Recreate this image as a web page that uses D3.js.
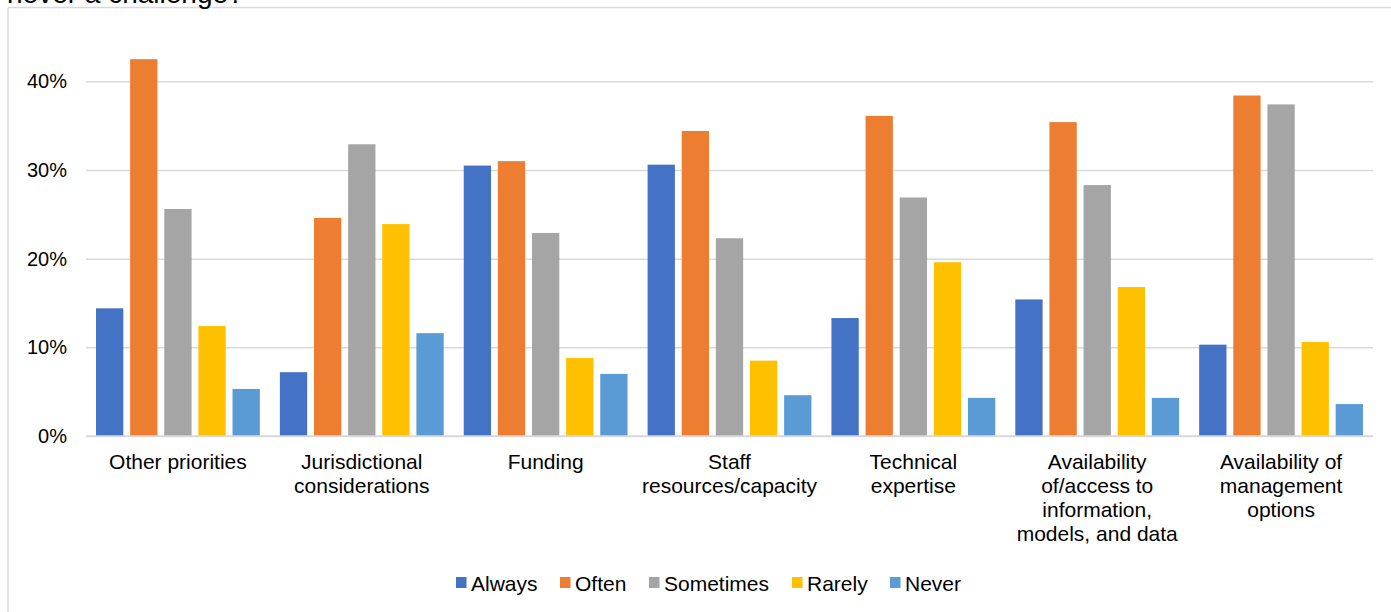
<!DOCTYPE html>
<html>
<head>
<meta charset="utf-8">
<script src="https://cdn.jsdelivr.net/npm/d3@7"></script>
<style>
  html, body { margin: 0; padding: 0; background: #fff; }
  svg { display: block; font-family: "Liberation Sans", Arial, sans-serif; }
</style>
</head>
<body>
<svg id="chart" width="1391" height="612"></svg>
<script>
// Categories (multi-line labels) and response series
const categories = [
  ["Other priorities"],
  ["Jurisdictional", "considerations"],
  ["Funding"],
  ["Staff", "resources/capacity"],
  ["Technical", "expertise"],
  ["Availability", "of/access to", "information,", "models, and data"],
  ["Availability of", "management", "options"]
];
const seriesNames = ["Always", "Often", "Sometimes", "Rarely", "Never"];
const seriesColors = ["#4472C4", "#ED7D31", "#A5A5A5", "#FFC000", "#5B9BD5"];

// Percent of respondents per category, one array per series
const always    = [14.4,  7.2, 30.5, 30.6, 13.3, 15.4, 10.3];
const often     = [42.5, 24.6, 31.0, 34.4, 36.1, 35.4, 38.4];
const sometimes = [25.6, 32.9, 22.9, 22.3, 26.9, 28.3, 37.4];
const rarely    = [12.4, 23.9,  8.8,  8.5, 19.6, 16.8, 10.6];
const never     = [ 5.3, 11.6,  7.0,  4.6,  4.3,  4.3,  3.6];
const seriesValues = [always, often, sometimes, rarely, never];

const yTicks = [0, 10, 20, 30, 40];

const svg = d3.select("#chart");

// Chart frame (top and left edges visible)
svg.append("line").attr("x1", 8).attr("x2", 1391).attr("y1", 7.5).attr("y2", 7.5)
  .attr("stroke", "#d9d9d9").attr("stroke-width", 1.5);
svg.append("line").attr("x1", 8).attr("x2", 8).attr("y1", 7.5).attr("y2", 612)
  .attr("stroke", "#d9d9d9").attr("stroke-width", 1.5);

// Title tail, running off the top edge
svg.append("text").attr("x", 7).attr("y", 3)
  .attr("font-size", 28).attr("fill", "#000")
  .text("never a challenge?");

const plotLeft = 86, plotRight = 1373, plotTop = 37, plotBottom = 436;

const y = d3.scaleLinear().domain([0, 45]).range([plotBottom, plotTop]);

const x0 = d3.scaleBand()
  .domain(d3.range(categories.length))
  .range([plotLeft, plotRight])
  .paddingInner(0.109)
  .paddingOuter(0.0545);

const x1 = d3.scaleBand()
  .domain(d3.range(seriesNames.length))
  .range([0, x0.bandwidth()])
  .paddingInner(0.2);

// Gridlines
svg.append("g")
  .attr("transform", `translate(${plotLeft},0)`)
  .call(d3.axisLeft(y).tickValues(yTicks).tickSize(-(plotRight - plotLeft)).tickFormat(""))
  .call(g => g.select(".domain").remove())
  .call(g => g.selectAll("line").attr("stroke", "#d9d9d9").attr("stroke-width", 1.5));

// Y tick labels
svg.append("g")
  .attr("transform", `translate(${plotLeft},0)`)
  .call(d3.axisLeft(y).tickValues(yTicks).tickSize(0).tickPadding(19).tickFormat(d => d + "%"))
  .call(g => g.select(".domain").remove())
  .call(g => g.selectAll("text").attr("font-size", 20).attr("fill", "#000")
    .attr("font-family", "Liberation Sans, Arial, sans-serif"));

// Bars
const groups = svg.append("g").selectAll("g")
  .data(categories.map((c, i) => i))
  .join("g")
  .attr("transform", i => `translate(${x0(i)},0)`);

groups.selectAll("rect")
  .data(i => seriesValues.map((vals, s) => ({ s, v: vals[i] })))
  .join("rect")
  .attr("x", d => x1(d.s))
  .attr("y", d => y(d.v))
  .attr("width", x1.bandwidth())
  .attr("height", d => y(0) - y(d.v))
  .attr("fill", d => seriesColors[d.s]);

// Baseline over bars
svg.append("line").attr("x1", plotLeft).attr("x2", plotRight)
  .attr("y1", y(0)).attr("y2", y(0))
  .attr("stroke", "#d9d9d9").attr("stroke-width", 1.5);

// Category labels
const catLabels = svg.append("g").selectAll("text")
  .data(categories)
  .join("text")
  .attr("x", (d, i) => x0(i) + x0.bandwidth() / 2)
  .attr("y", 469)
  .attr("text-anchor", "middle")
  .attr("font-size", 21)
  .attr("fill", "#000");
catLabels.selectAll("tspan")
  .data(d => d)
  .join("tspan")
  .attr("x", function() { return d3.select(this.parentNode).attr("x"); })
  .attr("dy", (d, j) => j === 0 ? 0 : 24)
  .text(d => d);

// Legend
const legendX = [456, 560, 649, 792, 890];
const legend = svg.append("g").selectAll("g")
  .data(seriesNames)
  .join("g")
  .attr("transform", (d, i) => `translate(${legendX[i]},577)`);
legend.append("rect").attr("width", 10.5).attr("height", 11)
  .attr("fill", (d, i) => seriesColors[i]);
legend.append("text").attr("x", 15).attr("y", 14)
  .attr("font-size", 21).attr("fill", "#000")
  .text(d => d);
</script>
</body>
</html>
